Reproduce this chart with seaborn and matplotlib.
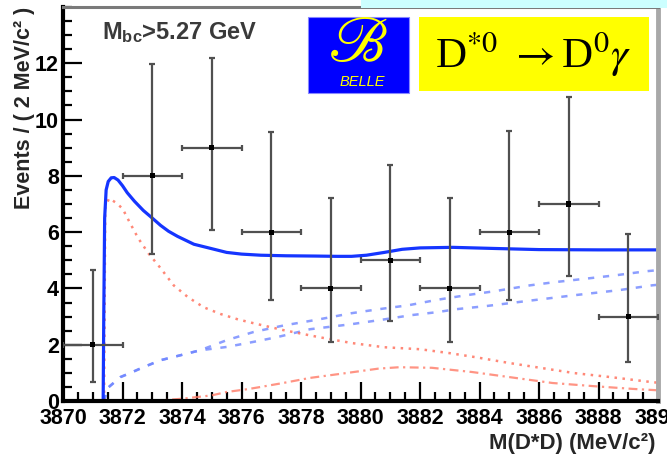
import matplotlib
matplotlib.use("Agg")
import matplotlib.pyplot as plt
import seaborn as sns
import numpy as np
import pandas as pd
from matplotlib.ticker import MultipleLocator
from matplotlib.patches import Rectangle

sns.set_style("ticks")
plt.rcParams["font.family"] = ["Liberation Sans", "DejaVu Sans"]
plt.rcParams["mathtext.fontset"] = "custom"
plt.rcParams["mathtext.rm"] = "Liberation Sans:bold"
plt.rcParams["mathtext.it"] = "Liberation Sans:bold"
plt.rcParams["mathtext.bf"] = "Liberation Sans:bold"

# ---- binned data: M(D*0 D0) in 2 MeV bins, Poisson error bounds ----
bin_width = 2.0
bin_center = np.array([3871, 3873, 3875, 3877, 3879, 3881, 3883, 3885, 3887, 3889], dtype=float)
events = np.array([2, 8, 9, 6, 4, 5, 4, 6, 7, 3], dtype=float)
err_low_bound = np.array([0.67, 5.24, 6.06, 3.60, 2.08, 2.84, 2.10, 3.60, 4.45, 1.38])
err_high_bound = np.array([4.65, 11.96, 12.20, 9.55, 7.20, 8.40, 7.20, 9.60, 10.80, 5.92])

# ---- fit curves ----
total_x = [3870.0, 3871.35, 3871.37, 3871.40, 3871.45, 3871.52, 3871.62, 3871.72, 3871.85,
           3872.0, 3872.16, 3872.4, 3872.7, 3873.0, 3873.28, 3873.55, 3873.85, 3874.4,
           3874.97, 3875.5, 3876.0, 3876.65, 3877.5, 3878.5, 3879.2, 3879.7, 3880.2,
           3880.8, 3881.4, 3882.0, 3883.1, 3884.5, 3886.0, 3888.0, 3890.0]
total_y = [0.0, 0.0, 3.0, 6.5, 7.5, 7.8, 7.93, 7.94, 7.85,
           7.65, 7.4, 7.1, 6.77, 6.5, 6.24, 6.03, 5.85, 5.57,
           5.42, 5.28, 5.22, 5.18, 5.16, 5.15, 5.14, 5.14, 5.18,
           5.28, 5.39, 5.44, 5.46, 5.42, 5.38, 5.37, 5.37]

signal_x = [3871.38, 3871.42, 3871.55, 3871.76, 3872.0, 3872.26, 3872.53, 3872.87, 3873.28,
            3873.72, 3874.2, 3874.73, 3875.3, 3875.88, 3876.42, 3877.4, 3878.6, 3879.7,
            3880.8, 3882.0, 3883.0, 3883.85, 3885.0, 3886.1, 3887.2, 3888.4, 3889.8, 3890.0]
signal_y = [0.0, 6.9, 7.2, 7.06, 6.84, 6.31, 5.78, 5.25, 4.72,
            4.11, 3.69, 3.33, 3.09, 2.9, 2.76, 2.52, 2.27, 2.06,
            1.91, 1.84, 1.7, 1.56, 1.35, 1.17, 0.99, 0.85, 0.67, 0.65]

bkg_a_x = [3871.38, 3871.5, 3871.93, 3872.26, 3872.7, 3873.28, 3873.7, 3874.6, 3875.5,
           3876.4, 3877.4, 3878.6, 3879.7, 3880.6, 3881.6, 3882.6, 3883.5, 3884.5,
           3885.7, 3886.5, 3887.6, 3888.6, 3889.6, 3890.0]
bkg_a_y = [0.0, 0.46, 0.85, 0.99, 1.2, 1.45, 1.56, 1.8, 2.16,
           2.45, 2.68, 2.9, 3.12, 3.26, 3.4, 3.6, 3.75, 3.9,
           4.11, 4.22, 4.35, 4.47, 4.61, 4.65]

bkg_b_x = [3871.38, 3871.5, 3871.93, 3872.7, 3873.28, 3873.7, 3874.6, 3875.5, 3876.4,
           3877.2, 3878.3, 3879.7, 3880.8, 3881.7, 3882.6, 3883.2, 3884.2, 3885.8,
           3887.2, 3888.7, 3889.8, 3890.0]
bkg_b_y = [0.0, 0.46, 0.85, 1.2, 1.45, 1.56, 1.8, 1.92, 2.1,
           2.27, 2.55, 2.73, 2.9, 3.05, 3.16, 3.26, 3.37, 3.58,
           3.76, 3.94, 4.11, 4.13]

other_x = [3873.0, 3874.0, 3875.0, 3875.5, 3876.2, 3876.65, 3877.4, 3878.3, 3879.5,
           3880.6, 3881.3, 3882.4, 3883.75, 3885.0, 3886.45, 3887.8, 3889.15, 3890.0]
other_y = [0.0, 0.08, 0.2, 0.32, 0.42, 0.5, 0.64, 0.82, 0.99,
           1.15, 1.2, 1.18, 1.03, 0.85, 0.64, 0.53, 0.43, 0.38]

x_ticks = [3870, 3872, 3874, 3876, 3878, 3880, 3882, 3884, 3886, 3888, 3890]
y_ticks = [0, 2, 4, 6, 8, 10, 12]

W, H = 667, 461
fig = plt.figure(figsize=(W / 100, H / 100), dpi=100)
ax = fig.add_axes([63 / W, 1 - 401 / H, 595 / W, 394 / H])

# fit components
sns.lineplot(x=other_x, y=other_y, ax=ax, color="#ff7a66", lw=1.6,
             linestyle=(0, (4, 2, 1, 2)), estimator=None, sort=False, alpha=0.8)
sns.lineplot(x=bkg_b_x, y=bkg_b_y, ax=ax, color="#6f86ff", lw=1.8,
             linestyle=(0, (2.5, 3.5)), estimator=None, sort=False, alpha=0.8)
sns.lineplot(x=bkg_a_x, y=bkg_a_y, ax=ax, color="#6f86ff", lw=1.8,
             linestyle=(0, (2.5, 3.5)), estimator=None, sort=False, alpha=0.8)
sns.lineplot(x=signal_x, y=signal_y, ax=ax, color="#ff6a55", lw=1.8,
             linestyle=(0, (1, 2.2)), estimator=None, sort=False, alpha=0.8)
sns.lineplot(x=total_x, y=total_y, ax=ax, color="#1535ff", lw=2.3,
             estimator=None, sort=False)

# data points with error bars
ax.errorbar(bin_center, events, xerr=bin_width / 2,
            yerr=[events - err_low_bound, err_high_bound - events],
            fmt="none", ecolor="#505050", elinewidth=1.6, capsize=2.5, capthick=1.6,
            zorder=4)
sns.scatterplot(x=bin_center, y=events, ax=ax, marker="s", s=14, color="black",
                edgecolor="none", zorder=5)

ax.set_xlim(3870, 3890)
ax.set_ylim(0, 14)
ax.set_xticks(x_ticks)
ax.set_yticks(y_ticks)
ax.xaxis.set_minor_locator(MultipleLocator(0.5))
ax.yaxis.set_minor_locator(MultipleLocator(0.5))
ax.tick_params(which="major", direction="in", length=13.5, width=1.6,
               labelsize=15.5, color="black", labelcolor="black")
ax.tick_params(which="minor", direction="in", length=6.5, width=1.6, color="black")
ax.tick_params(axis="x", pad=5)
ax.tick_params(axis="y", pad=3)
for lbl in ax.get_xticklabels() + ax.get_yticklabels():
    lbl.set_fontweight("bold")

for side in ["left", "bottom"]:
    ax.spines[side].set_linewidth(3.0)
    ax.spines[side].set_color("black")
ax.spines["top"].set_linewidth(2.2)
ax.spines["top"].set_color("#7a7a7a")
ax.spines["right"].set_linewidth(3.5)
ax.spines["right"].set_color("#a8a8a8")

ax.set_xlabel("M(D*D) (MeV/c²)", fontsize=16, fontweight="bold", loc="right")
ax.xaxis.set_label_coords(0.995, -0.08)
ax.set_ylabel("Events / ( 2 MeV/c² )", fontsize=15.5, fontweight="bold", loc="top")
ax.yaxis.set_label_coords(-0.047, 1.0)

ax.text((102 - 63) / 595, (401 - 33) / 394, r"M$_{\rm bc}$>5.27 GeV", transform=ax.transAxes,
        fontsize=17, fontweight="bold", color="#3a3a3a", ha="left", va="center")

# header band
fig.patches.append(Rectangle((361 / W, 1 - 8 / H), 1 - 361 / W, 8 / H,
                             transform=fig.transFigure, facecolor="#ccffff",
                             edgecolor="none", zorder=10))

# Belle logo
fig.patches.append(Rectangle((308 / W, 1 - 93 / H), 101 / W, 76 / H,
                             transform=fig.transFigure, facecolor="#0000ff",
                             edgecolor="#8888ff", lw=0.8, zorder=10))
fig.text(358 / W, 1 - 44 / H, r"$\mathscr{B}$", math_fontfamily="stix", fontsize=46,
         color="#ffff00", ha="center", va="center", zorder=11)
fig.text(362 / W, 1 - 82 / H, "BELLE", fontsize=10.5, style="italic",
         color="#ffff00", ha="center", va="center", zorder=11)

# decay label
fig.patches.append(Rectangle((419 / W, 1 - 91 / H), 230 / W, 74 / H,
                             transform=fig.transFigure, facecolor="#ffff00",
                             edgecolor="none", zorder=10))
fig.text(533 / W, 1 - 68 / H, r"D$^{*0}$ $\rightarrow$D$^{0}$$\gamma$",
         family=["Liberation Serif", "DejaVu Serif"], math_fontfamily="stix",
         fontsize=31, color="black", ha="center", va="baseline", zorder=11)

fig.savefig("out.png", dpi=100)
